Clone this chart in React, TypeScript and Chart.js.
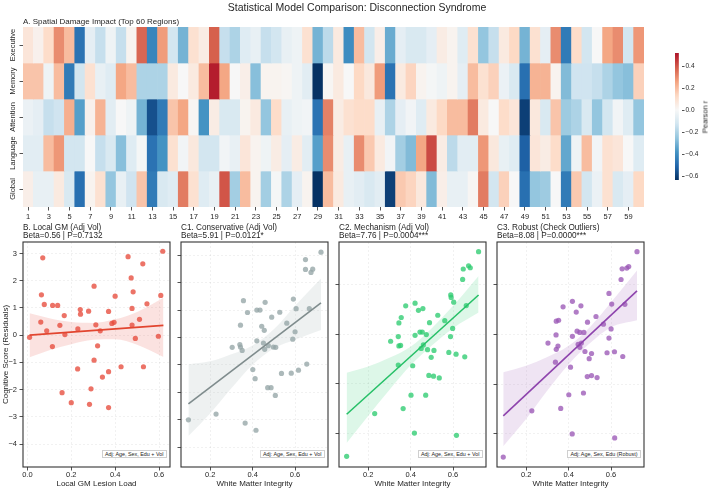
import React, { useEffect, useRef } from 'react';
import { Chart, registerables } from 'chart.js';

Chart.register(...registerables);

const FONT = '"Liberation Sans", Arial, Helvetica, sans-serif';
const INK = '#262626';
const W = 709;
const H = 490;

// ---------------- heatmap data ----------------
const REGIONS = ['1','2','3','4','5','6','7','8','9','10','11','12','13','14','15','16','17','18','19','20','21','22','23','24','25','26','27','28','29','30','31','32','33','34','35','36','37','38','39','40','41','42','43','44','45','46','47','48','49','50','51','52','53','54','55','56','57','58','59','60'];
const DOMAINS = ['Executive', 'Memory', 'Attention', 'Language', 'Global'];
const EXECUTIVE = [0.08,0.03,0.12,0.30,0.20,-0.47,-0.06,-0.15,-0.03,-0.15, 0.02,0.37,-0.42,0.27,-0.12,-0.30,0.10,0.05,0.38,-0.15, -0.20,-0.08,-0.05,-0.15,-0.12,-0.05,-0.03,0.10,-0.30,-0.17, 0.06,-0.40,0.20,-0.12,0.04,-0.32,-0.06,-0.10,-0.10,-0.06, 0.05,0.02,-0.08,0.10,-0.25,-0.15,0.06,0.13,-0.30,0.10, -0.06,0.30,-0.45,0.12,-0.12,0.00,0.25,0.30,-0.12,0.28];
const MEMORY = [0.18,0.18,-0.03,0.20,-0.45,-0.12,0.10,-0.05,-0.08,0.25, 0.20,-0.20,-0.20,-0.20,0.06,0.00,0.06,0.20,0.50,0.25, 0.00,0.04,-0.27,0.02,0.02,0.01,-0.03,-0.07,-0.63,0.01, 0.06,0.00,0.13,0.07,0.27,-0.47,0.06,0.14,0.02,-0.01, -0.03,0.02,-0.06,0.20,0.10,0.15,-0.04,-0.10,-0.48,0.22, 0.22,0.02,-0.28,-0.13,-0.13,-0.15,-0.20,-0.25,-0.27,0.15];
const ATTENTION = [-0.04,-0.06,-0.15,-0.13,0.23,-0.35,0.03,0.22,-0.07,0.00, -0.03,-0.30,-0.56,-0.45,0.18,0.25,0.01,-0.38,0.05,-0.10, -0.10,0.02,0.06,-0.25,0.12,-0.05,-0.03,-0.02,-0.47,0.32, 0.05,0.10,0.12,0.12,-0.05,-0.20,-0.06,-0.02,-0.08,0.06, 0.13,0.20,0.20,0.33,0.06,0.00,0.12,0.08,-0.60,0.07, -0.10,0.18,-0.23,-0.20,-0.10,-0.25,-0.12,-0.02,-0.08,-0.25];
const LANGUAGE = [-0.07,-0.07,0.20,0.28,-0.12,-0.12,0.00,-0.15,-0.10,-0.27, -0.08,-0.01,-0.47,-0.38,0.10,-0.02,0.07,-0.12,-0.12,-0.02, -0.05,0.08,0.02,-0.03,0.05,-0.06,0.05,-0.07,-0.35,0.30, 0.05,-0.05,0.30,0.17,0.06,-0.02,-0.22,-0.28,0.25,0.42, 0.05,-0.17,-0.07,-0.07,0.28,0.07,-0.05,-0.08,-0.52,0.08, 0.05,0.12,-0.33,-0.03,0.20,-0.02,0.10,0.08,0.00,-0.08];
const GLOBAL = [0.04,-0.05,-0.05,0.06,-0.10,-0.48,0.02,0.10,-0.25,-0.05, -0.13,0.18,-0.45,-0.10,-0.08,0.33,0.10,-0.08,-0.05,0.40, -0.22,0.20,0.02,-0.22,-0.01,-0.20,-0.06,0.02,-0.63,0.20, 0.06,-0.05,-0.07,-0.10,-0.07,-0.60,0.17,0.14,0.07,-0.28, 0.04,-0.05,-0.05,0.01,0.33,-0.12,0.15,0.00,-0.48,-0.25, -0.23,0.00,-0.45,0.17,-0.12,-0.04,0.10,-0.10,-0.06,0.13];
const HEAT_ROWS = [EXECUTIVE, MEMORY, ATTENTION, LANGUAGE, GLOBAL];
const CBAR_MIN = -0.635;
const CBAR_MAX = 0.52;
const CBAR_TICKS = [-0.6, -0.4, -0.2, 0.0, 0.2, 0.4];

// ---------------- scatter data ----------------
const B_X = [0.01,0.07,0.064,0.077,0.061,0.088,0.115,0.138,0.114,0.148,0.168,0.171,0.158,0.2,0.23,0.241,0.242,0.229,0.279,0.283,0.29,0.304,0.304,0.312,0.32,0.332,0.342,0.4,0.37,0.385,0.395,0.37,0.37,0.427,0.459,0.473,0.482,0.477,0.477,0.492,0.511,0.526,0.545,0.529,0.597,0.608,0.617];
const B_Y = [-0.08,2.84,1.48,1.13,0.48,0.16,1.09,1.09,-0.42,0.36,0.72,0.02,-2.11,-2.48,0.23,0.94,0.77,-1.24,0.88,-2.54,-1.97,1.80,-0.92,0.38,-0.39,0.16,-1.54,1.43,0.87,0.43,0.47,-1.34,-2.66,-1.16,2.88,2.10,1.59,0.98,0.37,-0.12,0.58,2.62,1.15,-1.16,-0.04,1.46,3.08];
const B_FIT_X = [0.01, 0.62];
const B_FIT_Y = [0.0, 0.36];
const B_BAND_X = [0.01, 0.1, 0.2, 0.3, 0.4, 0.5, 0.62];
const B_BAND_HI = [0.80, 0.62, 0.48, 0.45, 0.58, 0.85, 1.37];
const B_BAND_LO = [-0.81, -0.55, -0.33, -0.17, -0.15, -0.35, -0.80];

const C1_X = [0.098,0.722,0.649,0.649,0.683,0.675,0.228,0.365,0.416,0.357, 0.376,0.42,0.435,0.459,0.49,0.528,0.592,0.605,0.667,0.343, 0.443,0.455,0.42,0.304,0.34,0.343,0.351,0.451,0.474,0.457, 0.498,0.509,0.561,0.6,0.589,0.401,0.412,0.536,0.582,0.616, 0.655,0.471,0.487,0.507];
const C1_Y = [-3.0,3.11,2.84,2.48,2.49,2.37,-2.79,-3.12,-3.38,1.34, 0.91,1.0,1.0,1.28,0.74,0.92,1.4,1.05,1.05,0.45, 0.41,0.26,-0.12,-0.36,-0.26,-0.35,-0.47,-0.2,-0.3,-0.43, -0.35,-0.36,0.52,0.21,-0.06,-1.17,-1.5,-1.31,-1.3,-1.19, -0.97,-1.83,-1.83,-2.11];
const C1_FIT_X = [0.098, 0.722];
const C1_FIT_Y = [-2.42, 1.26];
const C1_BAND_X = [0.098, 0.2, 0.3, 0.4, 0.5, 0.6, 0.722];
const C1_BAND_HI = [-0.98, -0.87, -0.61, -0.29, 0.30, 1.16, 2.15];
const C1_BAND_LO = [-3.59, -2.77, -1.85, -0.99, -0.40, -0.08, 0.27];

const C2_X = [0.099,0.72,0.673,0.681,0.648,0.645,0.231,0.365,0.418,0.616, 0.402,0.471,0.377,0.421,0.437,0.458,0.356,0.345,0.528,0.589, 0.591,0.603,0.662,0.489,0.561,0.598,0.444,0.455,0.421,0.474, 0.342,0.306,0.345,0.353,0.46,0.45,0.48,0.51,0.588,0.497, 0.58,0.614,0.655,0.342,0.41,0.486,0.508,0.535];
const C2_Y = [-4.93,3.34,2.77,2.69,2.64,2.22,-3.2,-3.0,-3.99,-4.08, -2.46,-2.46,1.15,1.26,0.97,1.04,0.68,0.46,0.77,1.59, 1.49,1.3,1.16,0.47,0.55,0.24,0.09,0.09,-0.04,-0.01, -0.09,-0.28,-0.47,-0.45,-0.43,-0.57,-0.62,-0.65,-0.09,-0.93, -0.73,-0.8,-0.91,-1.24,-1.27,-1.66,-1.69,-1.76];
const C2_FIT_X = [0.099, 0.72];
const C2_FIT_Y = [-3.23, 1.59];
const C2_BAND_X = [0.099, 0.2, 0.3, 0.4, 0.5, 0.6, 0.72];
const C2_BAND_HI = [-1.55, -1.3, -0.95, -0.5, 0.25, 1.15, 2.36];
const C2_BAND_LO = [-4.39, -3.3, -2.25, -1.25, -0.45, 0.25, 0.88];

const C3_X = [0.0925,0.722,0.652,0.674,0.683,0.647,0.227,0.363,0.417,0.617, 0.401,0.47,0.374,0.418,0.436,0.458,0.353,0.342,0.529,0.59, 0.603,0.665,0.489,0.564,0.6,0.44,0.453,0.472,0.418,0.341, 0.303,0.342,0.35,0.453,0.445,0.46,0.59,0.477,0.508,0.497, 0.581,0.616,0.655,0.338,0.409,0.488,0.508,0.534];
const C3_Y = [-4.93,3.34,2.65,2.68,2.74,2.22,-3.07,-2.97,-4.0,-4.16, -2.42,-2.35,1.12,1.34,0.91,1.16,0.58,0.54,0.73,1.66, 1.23,1.22,0.5,0.42,0.23,0.14,0.09,0.09,-0.07,-0.01, -0.34,-0.59,-0.46,-0.51,-0.39,-0.34,-0.14,-0.68,-0.76,-0.97, -0.73,-0.69,-0.88,-1.11,-1.31,-1.69,-1.65,-1.73];
const C3_FIT_X = [0.0925, 0.722];
const C3_FIT_Y = [-3.27, 1.76];
const C3_BAND_X = [0.0925, 0.2, 0.3, 0.4, 0.5, 0.6, 0.722];
const C3_BAND_HI = [-1.51, -1.25, -0.9, -0.45, 0.3, 1.3, 2.58];
const C3_BAND_LO = [-4.49, -3.4, -2.25, -1.2, -0.35, 0.3, 0.58];

const X_TICKS_B = [0.0, 0.2, 0.4, 0.6];
const X_TICKS_C = [0.2, 0.4, 0.6];
const Y_TICKS_1 = [-4, -3, -2, -1, 0, 1, 2, 3];
const Y_TICKS_2 = [-4, -2, 0, 2];

// ---------------- panel setup (layout + style) ----------------
const PANELS = [
  { title: 'B. Local GM (Adj Vol)', stat: 'Beta=0.56 | P=0.7132', xTitle: 'Local GM Lesion Load', note: 'Adj: Age, Sex, Edu + Vol',
    x: B_X, y: B_Y, fx: B_FIT_X, fy: B_FIT_Y, bx: B_BAND_X, bhi: B_BAND_HI, blo: B_BAND_LO,
    rgb: [231, 76, 60], line: '#e2452f', left: 23, right: 170, xMin: -0.02, xMax: 0.65, yMin: -4.84, yMax: 3.42,
    xTicks: X_TICKS_B, yTicks: Y_TICKS_1, showY: true },
  { title: 'C1. Conservative (Adj Vol)', stat: 'Beta=5.91 | P=0.0121*', xTitle: 'White Matter Integrity', note: 'Adj: Age, Sex, Edu + Vol',
    x: C1_X, y: C1_Y, fx: C1_FIT_X, fy: C1_FIT_Y, bx: C1_BAND_X, bhi: C1_BAND_HI, blo: C1_BAND_LO,
    rgb: [149, 165, 166], line: '#7f8c8d', left: 181, right: 328, xMin: 0.063, xMax: 0.755, yMin: -4.72, yMax: 3.48,
    xTicks: X_TICKS_C, yTicks: Y_TICKS_1, showY: false },
  { title: 'C2. Mechanism (Adj Vol)', stat: 'Beta=7.76 | P=0.0004***', xTitle: 'White Matter Integrity', note: 'Adj: Age, Sex, Edu + Vol',
    x: C2_X, y: C2_Y, fx: C2_FIT_X, fy: C2_FIT_Y, bx: C2_BAND_X, bhi: C2_BAND_HI, blo: C2_BAND_LO,
    rgb: [46, 204, 113], line: '#27c068', left: 339, right: 486, xMin: 0.063, xMax: 0.755, yMin: -5.36, yMax: 3.73,
    xTicks: X_TICKS_C, yTicks: Y_TICKS_2, showY: false },
  { title: 'C3. Robust (Check Outliers)', stat: 'Beta=8.08 | P=0.0000***', xTitle: 'White Matter Integrity', note: 'Adj: Age, Sex, Edu (Robust)',
    x: C3_X, y: C3_Y, fx: C3_FIT_X, fy: C3_FIT_Y, bx: C3_BAND_X, bhi: C3_BAND_HI, blo: C3_BAND_LO,
    rgb: [155, 89, 182], line: '#8e44ad', left: 497, right: 644, xMin: 0.063, xMax: 0.755, yMin: -5.33, yMax: 3.73,
    xTicks: X_TICKS_C, yTicks: Y_TICKS_2, showY: false },
];

// ---------------- colour map (RdBu_r, centred on 0) ----------------
const RDBU_R = ['#053061','#2166ac','#4393c3','#92c5de','#d1e5f0','#f7f7f7','#fddbc7','#f4a582','#d6604d','#b2182b','#67001f'];
const CMAP_HALF = 0.635;
const hexRgb = (h: string) => [parseInt(h.slice(1, 3), 16), parseInt(h.slice(3, 5), 16), parseInt(h.slice(5, 7), 16)];
function cmap(v: number) {
  const t = Math.min(1, Math.max(0, (v + CMAP_HALF) / (2 * CMAP_HALF)));
  const s = t * 10;
  const i = Math.min(9, Math.floor(s));
  const f = s - i;
  const a = hexRgb(RDBU_R[i]);
  const b = hexRgb(RDBU_R[i + 1]);
  const c = a.map((av, k) => Math.round(av + (b[k] - av) * f));
  return `rgb(${c[0]},${c[1]},${c[2]})`;
}
const rgba = (c: number[], a: number) => `rgba(${c[0]},${c[1]},${c[2]},${a})`;
const fmtNum = (v: number, d: number) => {
  const s = d > 0 ? Math.abs(v).toFixed(d) : String(Math.abs(v));
  return v < -1e-9 ? '\u2212' + s : s;
};

function makeHeatmap(canvas: HTMLCanvasElement) {
  const rowLabels = {
    id: 'rowLabels',
    afterDraw(chart: any) {
      const { ctx } = chart;
      const ys = chart.scales.y;
      ctx.save();
      ctx.fillStyle = INK;
      ctx.font = `7.5px ${FONT}`;
      ctx.textAlign = 'center';
      ctx.textBaseline = 'middle';
      DOMAINS.forEach((d, i) => {
        ctx.save();
        ctx.translate(13, ys.getPixelForValue(i + 0.5));
        ctx.rotate(-Math.PI / 2);
        ctx.fillText(d, 0, 0);
        ctx.restore();
      });
      ctx.restore();
    },
  };
  return new Chart(canvas, {
    type: 'bar',
    data: {
      labels: REGIONS,
      datasets: HEAT_ROWS.map((row, r) => ({
        label: DOMAINS[r],
        data: row.map(() => [r, r + 1]),
        backgroundColor: row.map(cmap),
        borderWidth: 0,
        barPercentage: 1,
        categoryPercentage: 1,
        grouped: false,
      })) as any,
    },
    options: {
      responsive: false,
      animation: false,
      events: [],
      layout: { padding: { left: 0, top: 27, right: W - 644, bottom: H - 207 - 18 } },
      plugins: { legend: { display: false }, tooltip: { enabled: false } },
      scales: {
        x: {
          type: 'category',
          offset: true,
          grid: { offset: false, drawOnChartArea: false, drawTicks: true, tickLength: 3.5, tickWidth: 0.8,
            tickColor: (c: any) => (c.index % 2 === 0 ? INK : 'rgba(0,0,0,0)') },
          border: { display: false },
          ticks: { autoSkip: false, maxRotation: 0, minRotation: 0, padding: 1.5, color: INK, font: { family: FONT, size: 7.5 },
            callback: (_v: any, i: number) => (i % 2 === 0 ? REGIONS[i] : '') },
          afterFit: (s: any) => { s.height = 18; },
        },
        y: {
          type: 'linear', min: 0, max: 5, reverse: true,
          afterBuildTicks: (s: any) => { s.ticks = DOMAINS.map((_, i) => ({ value: i + 0.5 })); },
          ticks: { display: false },
          grid: { drawOnChartArea: false, drawTicks: true, tickLength: 3.5, tickWidth: 0.8, tickColor: INK },
          border: { display: false },
          afterFit: (s: any) => { s.width = 23; },
        },
      },
    } as any,
    plugins: [rowLabels],
  });
}

function makeColorbar(canvas: HTMLCanvasElement) {
  return new Chart(canvas, {
    type: 'bar',
    data: {
      labels: ['r'],
      datasets: [{
        data: [[CBAR_MIN, CBAR_MAX]] as any,
        borderWidth: 0,
        barPercentage: 1,
        categoryPercentage: 1,
        backgroundColor: (c: any) => {
          const ca = c.chart.chartArea;
          if (!ca) return 'rgba(0,0,0,0)';
          const g = c.chart.ctx.createLinearGradient(0, ca.bottom, 0, ca.top);
          for (let k = 0; k <= 40; k++) {
            const t = k / 40;
            g.addColorStop(t, cmap(CBAR_MIN + t * (CBAR_MAX - CBAR_MIN)));
          }
          return g;
        },
      }],
    },
    options: {
      responsive: false,
      animation: false,
      events: [],
      layout: { padding: { left: 675, top: 53, right: W - 682 - 18, bottom: H - 180 } },
      plugins: { legend: { display: false }, tooltip: { enabled: false } },
      scales: {
        x: { display: false, offset: false },
        y: {
          position: 'right', min: CBAR_MIN, max: CBAR_MAX,
          afterBuildTicks: (s: any) => { s.ticks = CBAR_TICKS.map((v) => ({ value: v })); },
          ticks: { padding: 1, color: INK, font: { family: FONT, size: 6.5 }, callback: (v: any) => fmtNum(Number(v), 1) },
          grid: { drawOnChartArea: false, drawTicks: true, tickLength: 2.5, tickWidth: 0.8, tickColor: INK },
          border: { display: false },
          afterFit: (s: any) => { s.width = 18; },
        },
      },
    } as any,
  });
}

function makePanel(canvas: HTMLCanvasElement, p: any) {
  const yW = p.showY ? 23 : 4;
  const frame = {
    id: 'frame',
    afterDraw(chart: any) {
      const { ctx, chartArea: a } = chart;
      ctx.save();
      ctx.strokeStyle = '#333333';
      ctx.lineWidth = 1.1;
      ctx.strokeRect(a.left, a.top, a.right - a.left, a.bottom - a.top);
      ctx.restore();
    },
  };
  const gridCommon = { color: 'rgba(0,0,0,0.08)', lineWidth: 0.7, drawTicks: true, tickLength: 3.5, tickWidth: 0.8, tickColor: INK, tickBorderDash: [] };
  return new Chart(canvas, {
    type: 'scatter',
    data: {
      datasets: [
        { type: 'scatter', data: p.x.map((v: number, i: number) => ({ x: v, y: p.y[i] })),
          backgroundColor: rgba(p.rgb, 0.78), borderWidth: 0, pointRadius: 2.6, pointHoverRadius: 2.6, order: 3 },
        { type: 'line', data: p.bx.map((v: number, i: number) => ({ x: v, y: p.bhi[i] })),
          borderColor: 'rgba(0,0,0,0)', borderWidth: 0, pointRadius: 0, fill: '+1', backgroundColor: rgba(p.rgb, 0.16),
          cubicInterpolationMode: 'monotone', order: 2 },
        { type: 'line', data: p.bx.map((v: number, i: number) => ({ x: v, y: p.blo[i] })),
          borderColor: 'rgba(0,0,0,0)', borderWidth: 0, pointRadius: 0, fill: false,
          cubicInterpolationMode: 'monotone', order: 2 },
        { type: 'line', data: p.fx.map((v: number, i: number) => ({ x: v, y: p.fy[i] })),
          borderColor: p.line, borderWidth: 1.6, pointRadius: 0, fill: false, order: 1 },
      ] as any,
    },
    options: {
      responsive: false,
      animation: false,
      events: [],
      layout: { padding: { left: p.left - yW, top: 242, right: W - p.right, bottom: 0 } },
      plugins: { legend: { display: false }, tooltip: { enabled: false } },
      scales: {
        x: {
          type: 'linear', min: p.xMin, max: p.xMax,
          afterBuildTicks: (s: any) => { s.ticks = p.xTicks.map((v: number) => ({ value: v })); },
          ticks: { padding: 0, color: INK, font: { family: FONT, size: 7.5 }, callback: (v: any) => fmtNum(Number(v), 1) },
          grid: gridCommon,
          border: { display: false, dash: [2, 2] },
          title: { display: true, text: p.xTitle, color: INK, font: { family: FONT, size: 8 }, padding: { top: 0, bottom: 1 } },
          afterFit: (s: any) => { s.height = 23; },
        },
        y: {
          type: 'linear', min: p.yMin, max: p.yMax,
          afterBuildTicks: (s: any) => { s.ticks = p.yTicks.map((v: number) => ({ value: v })); },
          ticks: { display: p.showY, padding: 2.5, color: INK, font: { family: FONT, size: 7.5 }, callback: (v: any) => fmtNum(Number(v), 0) },
          grid: gridCommon,
          border: { display: false, dash: [2, 2] },
          title: { display: p.showY, text: 'Cognitive Score (Residuals)', color: INK, font: { family: FONT, size: 8 }, padding: { top: 1, bottom: 0 } },
          afterFit: (s: any) => { s.width = yW; },
        },
      },
    } as any,
    plugins: [frame],
  });
}

function Txt(props: { x: number; y: number; size: number; center?: boolean; children: any }) {
  const { x, y, size, center, children } = props;
  return (
    <div style={{ position: 'absolute', left: x, top: y - size * 0.6, fontSize: size, lineHeight: `${size * 1.2}px`,
      whiteSpace: 'nowrap', transform: center ? 'translateX(-50%)' : undefined, color: INK }}>{children}</div>
  );
}

export default function App() {
  const heatRef = useRef<HTMLCanvasElement>(null);
  const cbarRef = useRef<HTMLCanvasElement>(null);
  const p0 = useRef<HTMLCanvasElement>(null);
  const p1 = useRef<HTMLCanvasElement>(null);
  const p2 = useRef<HTMLCanvasElement>(null);
  const p3 = useRef<HTMLCanvasElement>(null);
  const panelRefs = [p0, p1, p2, p3];

  useEffect(() => {
    Chart.defaults.font.family = FONT;
    const charts: Chart[] = [];
    if (heatRef.current) charts.push(makeHeatmap(heatRef.current));
    if (cbarRef.current) charts.push(makeColorbar(cbarRef.current));
    PANELS.forEach((p, i) => {
      const c = panelRefs[i].current;
      if (c) charts.push(makePanel(c, p));
    });
    return () => charts.forEach((c) => c.destroy());
  }, []);

  const cv = { position: 'absolute' as const, left: 0, top: 0 };
  return (
    <div style={{ position: 'fixed', left: 0, top: 0, width: W, height: H, background: '#ffffff', overflow: 'hidden', fontFamily: FONT }}>
      <canvas ref={heatRef} width={W} height={H} style={cv} />
      <canvas ref={cbarRef} width={W} height={H} style={cv} />
      {panelRefs.map((r, i) => <canvas key={i} ref={r} width={W} height={H} style={cv} />)}
      <Txt x={357} y={7} size={10.5} center>Statistical Model Comparison: Disconnection Syndrome</Txt>
      <Txt x={23} y={21.5} size={8}>A. Spatial Damage Impact (Top 60 Regions)</Txt>
      <div style={{ position: 'absolute', left: 705, top: 116.5, fontSize: 7.5, lineHeight: '9px', color: INK, whiteSpace: 'nowrap',
        transform: 'translate(-50%, -50%) rotate(-90deg)' }}>Pearson r</div>
      {PANELS.map((p, i) => (
        <React.Fragment key={i}>
          <Txt x={p.left} y={228} size={8.2}>{p.title}</Txt>
          <Txt x={p.left} y={235.5} size={8.2}>{p.stat}</Txt>
          <div style={{ position: 'absolute', right: W - (p.right - 3.5), top: 449.5, height: 8, boxSizing: 'border-box',
            border: '0.6px solid #cfcfcf', background: '#ffffff', fontSize: 5.4, lineHeight: '7px', padding: '0 2px',
            whiteSpace: 'nowrap', color: INK }}>{p.note}</div>
        </React.Fragment>
      ))}
    </div>
  );
}
